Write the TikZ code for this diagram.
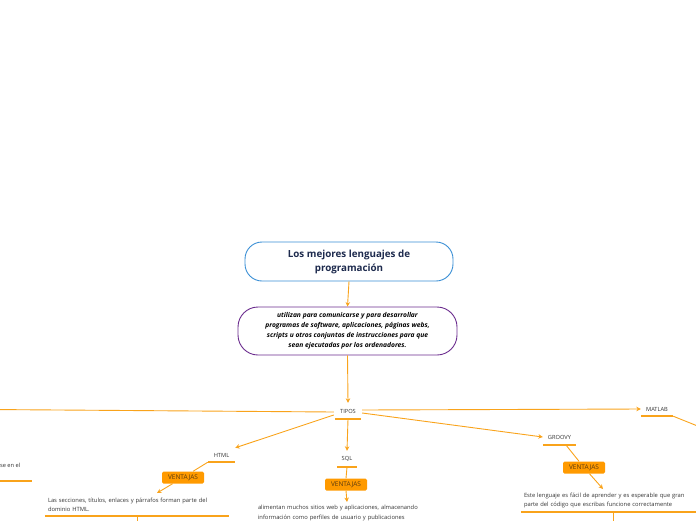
\documentclass[tikz,border=0pt]{standalone}
\usepackage{fontspec}
\setmainfont{Open Sans}
\usetikzlibrary{arrows.meta,calc}
\definecolor{conncol}{HTML}{F9A31B}
\definecolor{ventcol}{HTML}{FF9A00}
\definecolor{ventxt}{HTML}{5A3A10}
\definecolor{titleblue}{HTML}{3A8FD5}
\definecolor{titletext}{HTML}{1E2B4E}
\definecolor{purp}{HTML}{6B2C8E}
\definecolor{txtcol}{HTML}{333333}
\begin{document}
\begin{tikzpicture}[x=1pt,y=-1pt,
  conn/.style={draw=conncol, line width=0.9pt},
  arr/.style={conn, -{Stealth[length=4.5pt,width=4.5pt]}},
  ul/.style={draw=conncol, line width=2pt},
  titlebox/.style={draw=titleblue, line width=0.9pt, rounded corners=17pt, fill=white,
    minimum width=208pt, minimum height=39pt, align=center,
    font=\fontsize{9.8}{14}\selectfont\bfseries, text=titletext},
  descbox/.style={draw=purp, line width=0.9pt, rounded corners=20pt, fill=white,
    minimum width=219pt, minimum height=48pt, align=center,
    font=\fontsize{6.7}{10}\selectfont\bfseries\itshape, text=black},
  lbl/.style={font=\fontsize{5.7}{6}\selectfont, text=txtcol, inner sep=0pt},
  vbox/.style={fill=ventcol, rounded corners=1.5pt, minimum width=42pt, minimum height=12pt,
    inner sep=0pt, font=\fontsize{6.5}{7}\selectfont, text=ventxt},
  leaftxt/.style={text width=178pt, inner xsep=3pt, inner ysep=0pt, align=left,
    font=\fontsize{5.8}{9}\selectfont, text=txtcol}
]
\useasboundingbox (0,0) rectangle (696,520);

\node[titlebox] (title) at (349,261.5) {Los mejores lenguajes de\\programación};
\node[descbox] (desc) at (347.5,331) {utilizan para comunicarse y para desarrollar\\programas de software, aplicaciones, páginas webs,\\scripts u otros conjuntos de instrucciones para que\\sean ejecutadas por los ordenadores.};

\node[lbl, minimum width=26pt, minimum height=16pt] (tipos) at (348,411) {TIPOS};
\node[lbl, minimum width=27pt, minimum height=14pt] (html) at (221.5,455) {HTML};
\node[lbl, minimum width=20pt, minimum height=16pt] (sql) at (347,459) {SQL};
\node[lbl, minimum width=33pt, minimum height=16pt] (groovy) at (559.5,437) {GROOVY};
\node[lbl, minimum width=32pt, minimum height=14pt] (matlab) at (657,409) {MATLAB};
\node[lbl, anchor=east] (lefttxt) at (20.5,465) {se en el};

\node[vbox] (v1) at (183,477.5) {VENTAJAS};
\node[vbox] (v2) at (346,484.5) {VENTAJAS};
\node[vbox] (v3) at (584,467.5) {VENTAJAS};

\node[leaftxt, minimum height=22pt, anchor=north] (htmltxt) at (137,494) {Las secciones, títulos, enlaces y párrafos forman parte del\\dominio HTML.};
\node[leaftxt, minimum height=22pt, anchor=north, font=\fontsize{5.8}{9.5}\selectfont] (sqltxt) at (347,502) {alimentan muchos sitios web y aplicaciones, almacenando\\información como perfiles de usuario y publicaciones};
\node[leaftxt, minimum height=23pt, anchor=north, font=\fontsize{5.8}{8.5}\selectfont] (groovytxt) at (613,489) {Este lenguaje es fácil de aprender y es esperable que gran\\parte del código que escribas funcione correctamente};

\coordinate (leftend) at (-10,409.5);
\coordinate (rightend) at (710,431);
\coordinate (htmldown) at (137,530);
\coordinate (groovydown) at (613,530);
\coordinate (leftul1) at (-10,481);
\coordinate (leftul2) at (32,481);

% underlines
\foreach \n in {tipos,html,sql,groovy,matlab}{\draw[ul] (\n.south west) -- (\n.south east);}
\draw[ul] (htmltxt.south west) -- (htmltxt.south east);
\draw[ul] (groovytxt.south west) -- (groovytxt.south east);
\draw[ul] (leftul1) -- (leftul2);

% connectors
\draw[arr] (title.south) -- (desc.north);
\draw[arr] (desc.south) -- (tipos.north);
\draw[conn] ($(tipos.west)+(-1,1)$) -- (leftend);
\draw[arr] ($(tipos.west)+(-1,4)$) -- (html.north east);
\draw[arr] (tipos.south) -- (sql.north);
\draw[arr] ($(tipos.east)+(1,2)$) -- (groovy.west);
\draw[arr] ($(tipos.east)+(1,-1)$) -- (matlab.west);
\draw[conn] (matlab.south east) -- (rightend);
\draw[conn] (html.south west) -- (v1);
\draw[arr] (v1) -- ($(htmltxt.north)+(20,-1)$);
\draw[conn] (sql.south) -- (v2.north);
\draw[arr] (v2.south) -- (sqltxt.north);
\draw[conn] (groovy) -- (v3);
\draw[arr] (v3) -- ($(groovytxt.north)+(-10,0)$);
\draw[conn] (htmltxt.south) -- (htmldown);
\draw[conn] (groovytxt.south) -- (groovydown);
\end{tikzpicture}
\end{document}
